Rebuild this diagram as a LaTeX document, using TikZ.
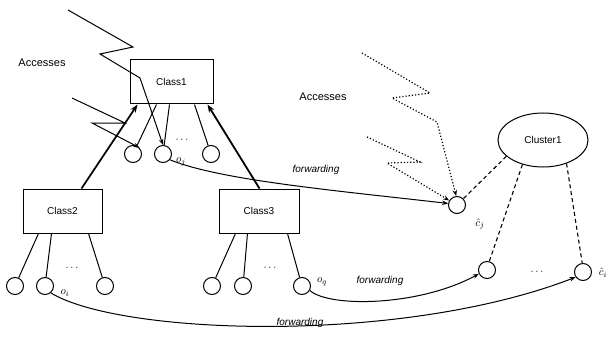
\documentclass[tikz,border=0pt]{standalone}
\usepackage{fontspec}
\setmainfont{Liberation Sans}
\usetikzlibrary{arrows.meta,shapes.geometric}
\begin{document}
\begin{tikzpicture}[x=1pt,y=-1pt,line width=1pt,
  clsbox/.style={draw,rectangle,inner sep=0pt,font=\fontsize{10}{11}\selectfont},
  obj/.style={draw,circle,minimum size=17pt,inner sep=0pt},
  clus/.style={draw,ellipse,minimum width=90pt,minimum height=54pt,inner sep=0pt,font=\fontsize{10}{11}\selectfont},
  lbl/.style={font=\fontsize{11}{12}\selectfont},
  fwd/.style={font=\fontsize{10}{11}\selectfont\itshape},
  olbl/.style={font=\fontsize{11}{11}\selectfont,inner sep=0pt},
  dotsnode/.style={font=\fontsize{11}{11}\selectfont,inner sep=0pt},
  tip/.style={-{Stealth[length=6pt,width=4.5pt]}},
  bigarrow/.style={line width=1.8pt,-{Stealth[length=8pt,width=6pt]}},
  dotline/.style={dotted,line width=1.2pt,-{Stealth[length=6pt,width=4.5pt]}},
  dashline/.style={line width=1.1pt,dash pattern=on 4pt off 3pt}]
\useasboundingbox (0,0) rectangle (611,337);
% class boxes
\node[clsbox,minimum width=83pt,minimum height=44pt] (cls1) at (171.5,82) {Class1};
\node[clsbox,minimum width=79pt,minimum height=44pt] (cls2) at (62.5,211) {Class2};
\node[clsbox,minimum width=80pt,minimum height=44pt] (cls3) at (259,211) {Class3};
% objects
\node[obj] (c11) at (133,154) {};
\node[obj] (c12) at (163,154) {};
\node[obj] (c13) at (211,154) {};
\node[obj] (c21) at (15,286) {};
\node[obj] (c22) at (45,286) {};
\node[obj] (c23) at (105,286) {};
\node[obj] (c31) at (212,286) {};
\node[obj] (c32) at (243,286) {};
\node[obj] (c33) at (302,286) {};
% cluster
\node[clus] (cl) at (543,140) {Cluster1};
\node[obj] (cj) at (457,205) {};
\node[obj] (cm) at (487,270) {};
\node[obj] (ci) at (583,272) {};
% dots
\node[dotsnode] (d1) at (182,140) {$\cdots$};
\node[dotsnode] (d2) at (72,268) {$\cdots$};
\node[dotsnode] (d3) at (270,268) {$\cdots$};
\node[dotsnode] (d4) at (537,272) {$\cdots$};
% labels
\node[olbl] (oj) at (181,162) {$o_j$};
\node[olbl] (oi) at (65,293) {$o_i$};
\node[olbl] (oq) at (322,282) {$o_q$};
\node[olbl] (hcj) at (480,224) {$\hat{c}_j$};
\node[olbl] (hci) at (603,273) {$\hat{c}_i$};
\node[lbl] (acc1) at (42,63) {Accesses};
\node[lbl] (acc2) at (323,97) {Accesses};
\node[fwd] (f1) at (316,170) {forwarding};
\node[fwd] (f2) at (380,281) {forwarding};
\node[fwd] (f3) at (300,323) {forwarding};
% tree lines
\draw ([xshift=27pt]cls1.south west) -- (c11);
\draw ([xshift=40pt]cls1.south west) -- (c12);
\draw ([xshift=65pt]cls1.south west) -- (c13);
\draw ([xshift=16pt]cls2.south west) -- (c21);
\draw ([xshift=29pt]cls2.south west) -- (c22);
\draw ([xshift=66pt]cls2.south west) -- (c23);
\draw ([xshift=17pt]cls3.south west) -- (c31);
\draw ([xshift=29pt]cls3.south west) -- (c32);
\draw ([xshift=69pt]cls3.south west) -- (c33);
% thick arrows
\draw[bigarrow] ([xshift=59pt]cls2.north west) -- ([xshift=8pt]cls1.south west);
\draw[bigarrow] ([xshift=41pt]cls3.north west) -- ([xshift=78pt]cls1.south west);
% access zigzags (solid)
\coordinate (a1) at (68,10);
\coordinate (a2) at (72,98);
\draw[tip] (a1) -- (133,47) -- (100,54) -- (140,78) -- (c12.north);
\draw[tip] (a2) -- (125,123) -- (92,123) -- (c11.45);
% access zigzags (dotted)
\coordinate (b1) at (362,53);
\coordinate (b2) at (367,137);
\draw[dotline] (b1) -- (430,93) -- (392,98) -- (437,122) -- (cj.95);
\draw[dotline] (b2) -- (420,162) -- (387,163) -- (cj.150);
% cluster dashed lines
\draw[dashline] (cl.204) -- (cj.45);
\draw[dashline] (cl.230) -- (cm.75);
\draw[dashline] (cl.-45) -- (ci.95);
% forwarding curves
\draw[tip] (c12.-40) .. controls (220,180) and (330,190) .. (cj.170);
\draw[tip] (c33.-30) .. controls (330,308) and (420,306) .. (cm.205);
\draw[tip] (c22.-50) .. controls (120,335) and (400,345) .. (ci.215);
\end{tikzpicture}
\end{document}
